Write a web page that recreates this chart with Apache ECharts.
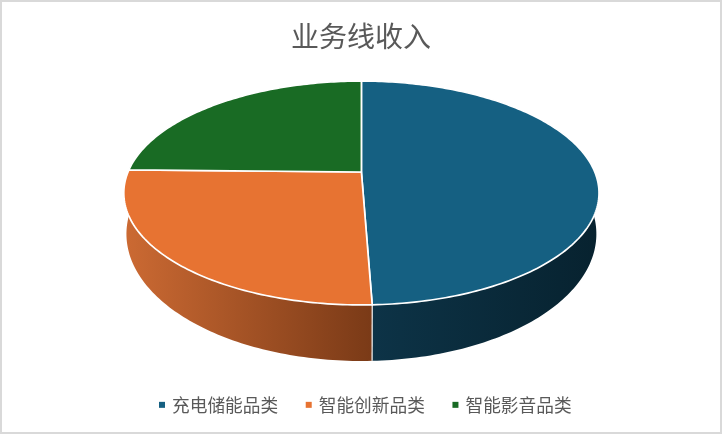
<!DOCTYPE html>
<html><head><meta charset="utf-8">
<style>html,body{margin:0;padding:0;background:#fff}#c{width:722px;height:434px}</style>
<script src="https://cdn.jsdelivr.net/npm/echarts@6/dist/echarts.min.js"></script>
</head><body><div id="c"></div>
<script>
const chartTitle = '业务线收入';
const categories = ['充电储能品类', '智能创新品类', '智能影音品类'];
const revenueShare = [49.4, 25.9, 24.7];
const topColors = ['#156082', '#E77332', '#196B24'];
const sideLeft = ['#0D3448', '#CC6A33', '#10451A'];
const sideRight = ['#07222F', '#7A3A17', '#0A2A10'];

// Perspective projection of the pie disc
const F = '"Noto Sans CJK SC", sans-serif';
const top_ = {cx: 361.4, cy: 172, a: 233.4, b: 108};
const base = {cx: 361.4, cy: 210.2, a: 230.8, b: 122.5};
const K = 0.1875;
function project(p, deg) {
  const t = deg * Math.PI / 180, X = Math.sin(t), Y = -Math.cos(t), d = 1 - K * Y;
  return [p.cx + p.a * X / d, p.cy + p.b * Y / d];
}
function arc(p, a0, a1) {
  const n = Math.max(2, Math.ceil(Math.abs(a1 - a0))), out = [];
  for (let i = 0; i <= n; i++) out.push(project(p, a0 + (a1 - a0) * i / n));
  return out;
}
const total = revenueShare.reduce((s, v) => s + v, 0);
function sliceAngles(idx) {
  let before = 0;
  for (let i = 0; i < idx; i++) before += revenueShare[i];
  return [before / total * 360, (before + revenueShare[idx]) / total * 360];
}
function makeRender(idx) {
  return function (params, api) {
    api.value(0);
    const [a0, a1] = sliceAngles(idx);
    const topArc = arc(top_, a0, a1), baseArc = arc(base, a0, a1).reverse();
    const side = topArc.concat(baseArc);
    const xs = side.map(q => q[0]);
    const children = [{
      type: 'polygon', z2: 1, silent: true,
      shape: {points: side},
      style: {
        fill: new echarts.graphic.LinearGradient(
          Math.min.apply(null, xs), 0, Math.max.apply(null, xs), 0,
          [{offset: 0, color: sideLeft[idx]}, {offset: 1, color: sideRight[idx]}], true),
        stroke: null
      }
    }];
    if (idx === 1) {
      children.push({
        type: 'line', z2: 3, silent: true,
        shape: {x1: topArc[0][0], y1: topArc[0][1], x2: baseArc[baseArc.length - 1][0], y2: baseArc[baseArc.length - 1][1]},
        style: {stroke: '#E4E4E4', lineWidth: 1.3}
      });
    }
    children.push({
      type: 'polygon', z2: 10, silent: true,
      shape: {points: [[top_.cx, top_.cy]].concat(topArc)},
      style: {fill: topColors[idx], stroke: '#fff', lineWidth: 1.7, lineJoin: 'round'}
    });
    return {type: 'group', children};
  };
}
const chart = echarts.init(document.getElementById('c'), null, {renderer: 'canvas'});
chart.setOption({
  animation: false,
  backgroundColor: '#fff',
  title: {
    text: chartTitle, left: 'center', top: 17,
    textStyle: {fontFamily: F, fontSize: 28, fontWeight: 'normal', color: '#595959'}
  },
  legend: {
    data: categories, left: 154, top: 391, itemWidth: 6, itemHeight: 6, itemGap: 27.6, icon: 'rect',
    selectedMode: false,
    textStyle: {fontFamily: F, fontSize: 17.7, color: '#595959', padding: [0, 0, 0, 2]}
  },
  graphic: [{
    type: 'rect', silent: true, z: 100,
    shape: {x: 1, y: 1, width: 720, height: 432},
    style: {fill: 'none', stroke: '#D9D9D9', lineWidth: 2}
  }],
  series: categories.map((name, i) => ({
    type: 'custom', name, coordinateSystem: 'none', silent: true,
    itemStyle: {color: topColors[i]},
    data: [[revenueShare[i]]],
    renderItem: makeRender(i)
  }))
});
</script></body></html>
